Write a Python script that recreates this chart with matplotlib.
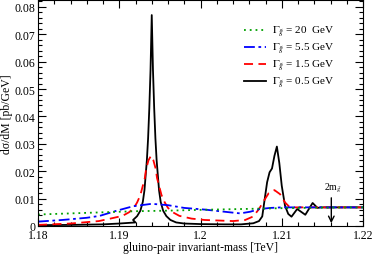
import matplotlib
matplotlib.use("Agg")
import matplotlib.pyplot as plt
from matplotlib.ticker import MultipleLocator, FuncFormatter

plt.rcParams["font.family"] = ["Liberation Serif", "DejaVu Serif"]
plt.rcParams["mathtext.fontset"] = "stix"

# values (x in TeV, y in pb/GeV)
x_black = [1.180, 1.184, 1.188, 1.190, 1.191, 1.192, 1.1917, 1.1922, 1.1926, 1.1929,
           1.1931, 1.19325, 1.1934, 1.19355, 1.1937, 1.19385, 1.1940, 1.19415, 1.1943,
           1.19445, 1.1946, 1.19475, 1.1949, 1.1951, 1.1954, 1.1958, 1.1963, 1.1970,
           1.198, 1.200, 1.203, 1.205,
           1.2065, 1.2072, 1.2076, 1.2079, 1.2082, 1.2085, 1.2088, 1.2091, 1.2094,
           1.2097, 1.2100, 1.2104, 1.2108, 1.2112, 1.2119, 1.2129, 1.2138, 1.2144,
           1.2148, 1.220]
y_black = [0.0003, 0.0004, 0.0006, 0.0009, 0.0011, 0.0013, 0.0022, 0.0036, 0.0056, 0.0088,
           0.013, 0.0185, 0.024, 0.032, 0.043, 0.057, 0.077, 0.057, 0.043,
           0.032, 0.024, 0.0185, 0.013, 0.0088, 0.0056, 0.0036, 0.0022, 0.0013,
           0.0009, 0.0007, 0.0006, 0.0006,
           0.001, 0.0018, 0.0035, 0.0098, 0.016, 0.0196, 0.021, 0.0256, 0.029,
           0.023, 0.0147, 0.0074, 0.0044, 0.0034, 0.0062, 0.0041, 0.0084, 0.0066,
           0.0068, 0.0068]

x_red = [1.180, 1.184, 1.1875, 1.1889, 1.1904, 1.1912, 1.1918, 1.1922, 1.1926, 1.1929,
         1.19315, 1.1933, 1.1936, 1.1939, 1.1942, 1.1945, 1.19465, 1.1949, 1.1952,
         1.1956, 1.1960, 1.1966, 1.1974, 1.1989, 1.2005, 1.204,
         1.2055, 1.2065, 1.2072, 1.2078, 1.2084, 1.2091, 1.2098, 1.2104, 1.2110, 1.220]
y_red = [0.0004, 0.0009, 0.0018, 0.0027, 0.0037, 0.005, 0.0066, 0.0086, 0.0113, 0.0147,
         0.0175, 0.0207, 0.0240, 0.0256, 0.0240, 0.0207, 0.0175, 0.0147, 0.0113,
         0.0086, 0.0066, 0.005, 0.0037, 0.0027, 0.0022, 0.0018,
         0.0022, 0.0035, 0.0062, 0.0092, 0.012, 0.0131, 0.0116, 0.0086, 0.0068, 0.0068]

x_blue = [1.180, 1.183, 1.186, 1.1876, 1.1897, 1.1917, 1.194, 1.196, 1.198, 1.2005,
          1.2036, 1.2049, 1.2061, 1.2073, 1.2086, 1.2100, 1.220]
y_blue = [0.0016, 0.0022, 0.0030, 0.0037, 0.0056, 0.0072, 0.0081, 0.0076, 0.0066, 0.0060,
          0.0050, 0.0046, 0.0052, 0.0062, 0.0066, 0.0068, 0.0068]

x_green = [1.180, 1.184, 1.188, 1.192, 1.196, 1.200, 1.205, 1.210, 1.215, 1.220]
y_green = [0.0042, 0.0046, 0.0050, 0.0054, 0.0056, 0.0059, 0.0062, 0.0065, 0.0067, 0.0068]

labels = [r"$\Gamma_{\tilde{g}}$ = 20  GeV", r"$\Gamma_{\tilde{g}}$ = 5.5 GeV",
          r"$\Gamma_{\tilde{g}}$ = 1.5 GeV", r"$\Gamma_{\tilde{g}}$ = 0.5 GeV"]
threshold = 1.2161

fig = plt.figure(figsize=(3.74, 2.55), dpi=100)
ax = fig.add_axes([38 / 374, 28 / 255, 325 / 374, 226 / 255])

l4, = ax.plot(x_black, y_black, color="black", lw=1.3, ls="-")
l3, = ax.plot(x_red, y_red, color="red", lw=1.3, ls=(0, (5, 3)))
l2, = ax.plot(x_blue, y_blue, color="blue", lw=1.3, ls=(0, (6, 2, 1.5, 2)))
l1, = ax.plot(x_green, y_green, color="#00a000", lw=1.3, ls=(0, (1, 2.2)))

ax.legend([l1, l2, l3, l4], labels, loc="upper left", frameon=False, fontsize=8,
          bbox_to_anchor=(244 / 374, 1 - 25 / 255), bbox_transform=fig.transFigure,
          borderpad=0, borderaxespad=0, handlelength=2.0, handletextpad=0.5,
          labelspacing=0.18)

ax.annotate("", xy=(threshold, 0.0), xytext=(threshold, 0.0113),
            arrowprops=dict(arrowstyle="->", color="black", lw=1.0))
ax.text(threshold + 0.0002, 0.0118, r"2m$_{\tilde{g}}$", ha="center", va="bottom", fontsize=7)

ax.set_xlim(1.18, 1.22)
ax.set_ylim(0, 0.0825)
ax.xaxis.set_major_locator(MultipleLocator(0.01))
ax.xaxis.set_minor_locator(MultipleLocator(0.002))
ax.yaxis.set_major_locator(MultipleLocator(0.01))
ax.yaxis.set_minor_locator(MultipleLocator(0.002))
ax.xaxis.set_major_formatter(FuncFormatter(lambda v, p: "%g" % round(v, 3)))
ax.yaxis.set_major_formatter(FuncFormatter(lambda v, p: "%g" % round(v, 3)))
ax.tick_params(which="both", direction="in", top=True, right=True, labelsize=8.5, pad=2)
ax.tick_params(which="major", length=6, width=0.8)
ax.tick_params(which="minor", length=3, width=0.8)

ax.set_xlabel("gluino-pair invariant-mass [TeV]", fontsize=8.5, labelpad=0)
ax.set_ylabel("d\u03c3/dM [pb/GeV]", fontsize=8.5, labelpad=1)

fig.savefig("out.png", dpi=100)
